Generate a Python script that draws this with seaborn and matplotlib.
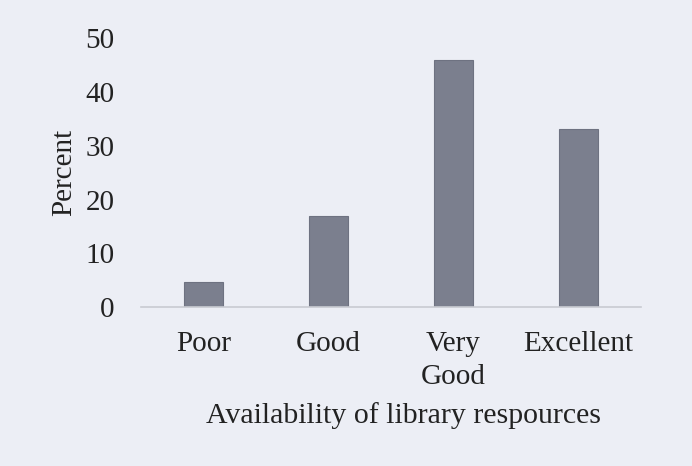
import seaborn as sns
import matplotlib.pyplot as plt
import pandas as pd

# data
categories = ['Poor', 'Good', 'Very\nGood', 'Excellent']
percent = [4.6, 17.0, 46.0, 33.2]

bg = '#eceef5'
bar_color = '#7b7f8e'

sns.set_theme(style='white')
plt.rcParams['font.family'] = ['Liberation Serif', 'DejaVu Serif']

df = pd.DataFrame({'cat': categories, 'pct': percent})

fig = plt.figure(figsize=(6.92, 4.66), dpi=100, facecolor=bg)
ax = fig.add_axes([0.204, 0.341, 0.722, 0.577])
ax.set_facecolor(bg)

sns.barplot(data=df, x='cat', y='pct', color=bar_color, width=0.31,
            saturation=1, edgecolor='#6e7281', linewidth=0.8, ax=ax)

ax.set_ylim(0, 50)
ax.set_yticks(range(0, 51, 10))
ax.set_xlim(-0.5, 3.5)

for s in ['top', 'right', 'left']:
    ax.spines[s].set_visible(False)
ax.spines['bottom'].set_color('#c9cbd2')
ax.spines['bottom'].set_linewidth(1.2)

ax.tick_params(axis='y', length=0, pad=19, labelsize=21, labelcolor='#222222')
ax.tick_params(axis='x', length=0, pad=17, labelsize=21, labelcolor='#222222')
for t in ax.get_xticklabels():
    t.set_linespacing(1.35)

ax.set_ylabel('Percent', fontsize=21, color='#222222', labelpad=6)
ax.set_xlabel('Availability of library respources', fontsize=21.5,
              color='#222222')
ax.xaxis.set_label_coords(0.526, -0.353)

fig.savefig('out.png', dpi=100, facecolor=bg)
